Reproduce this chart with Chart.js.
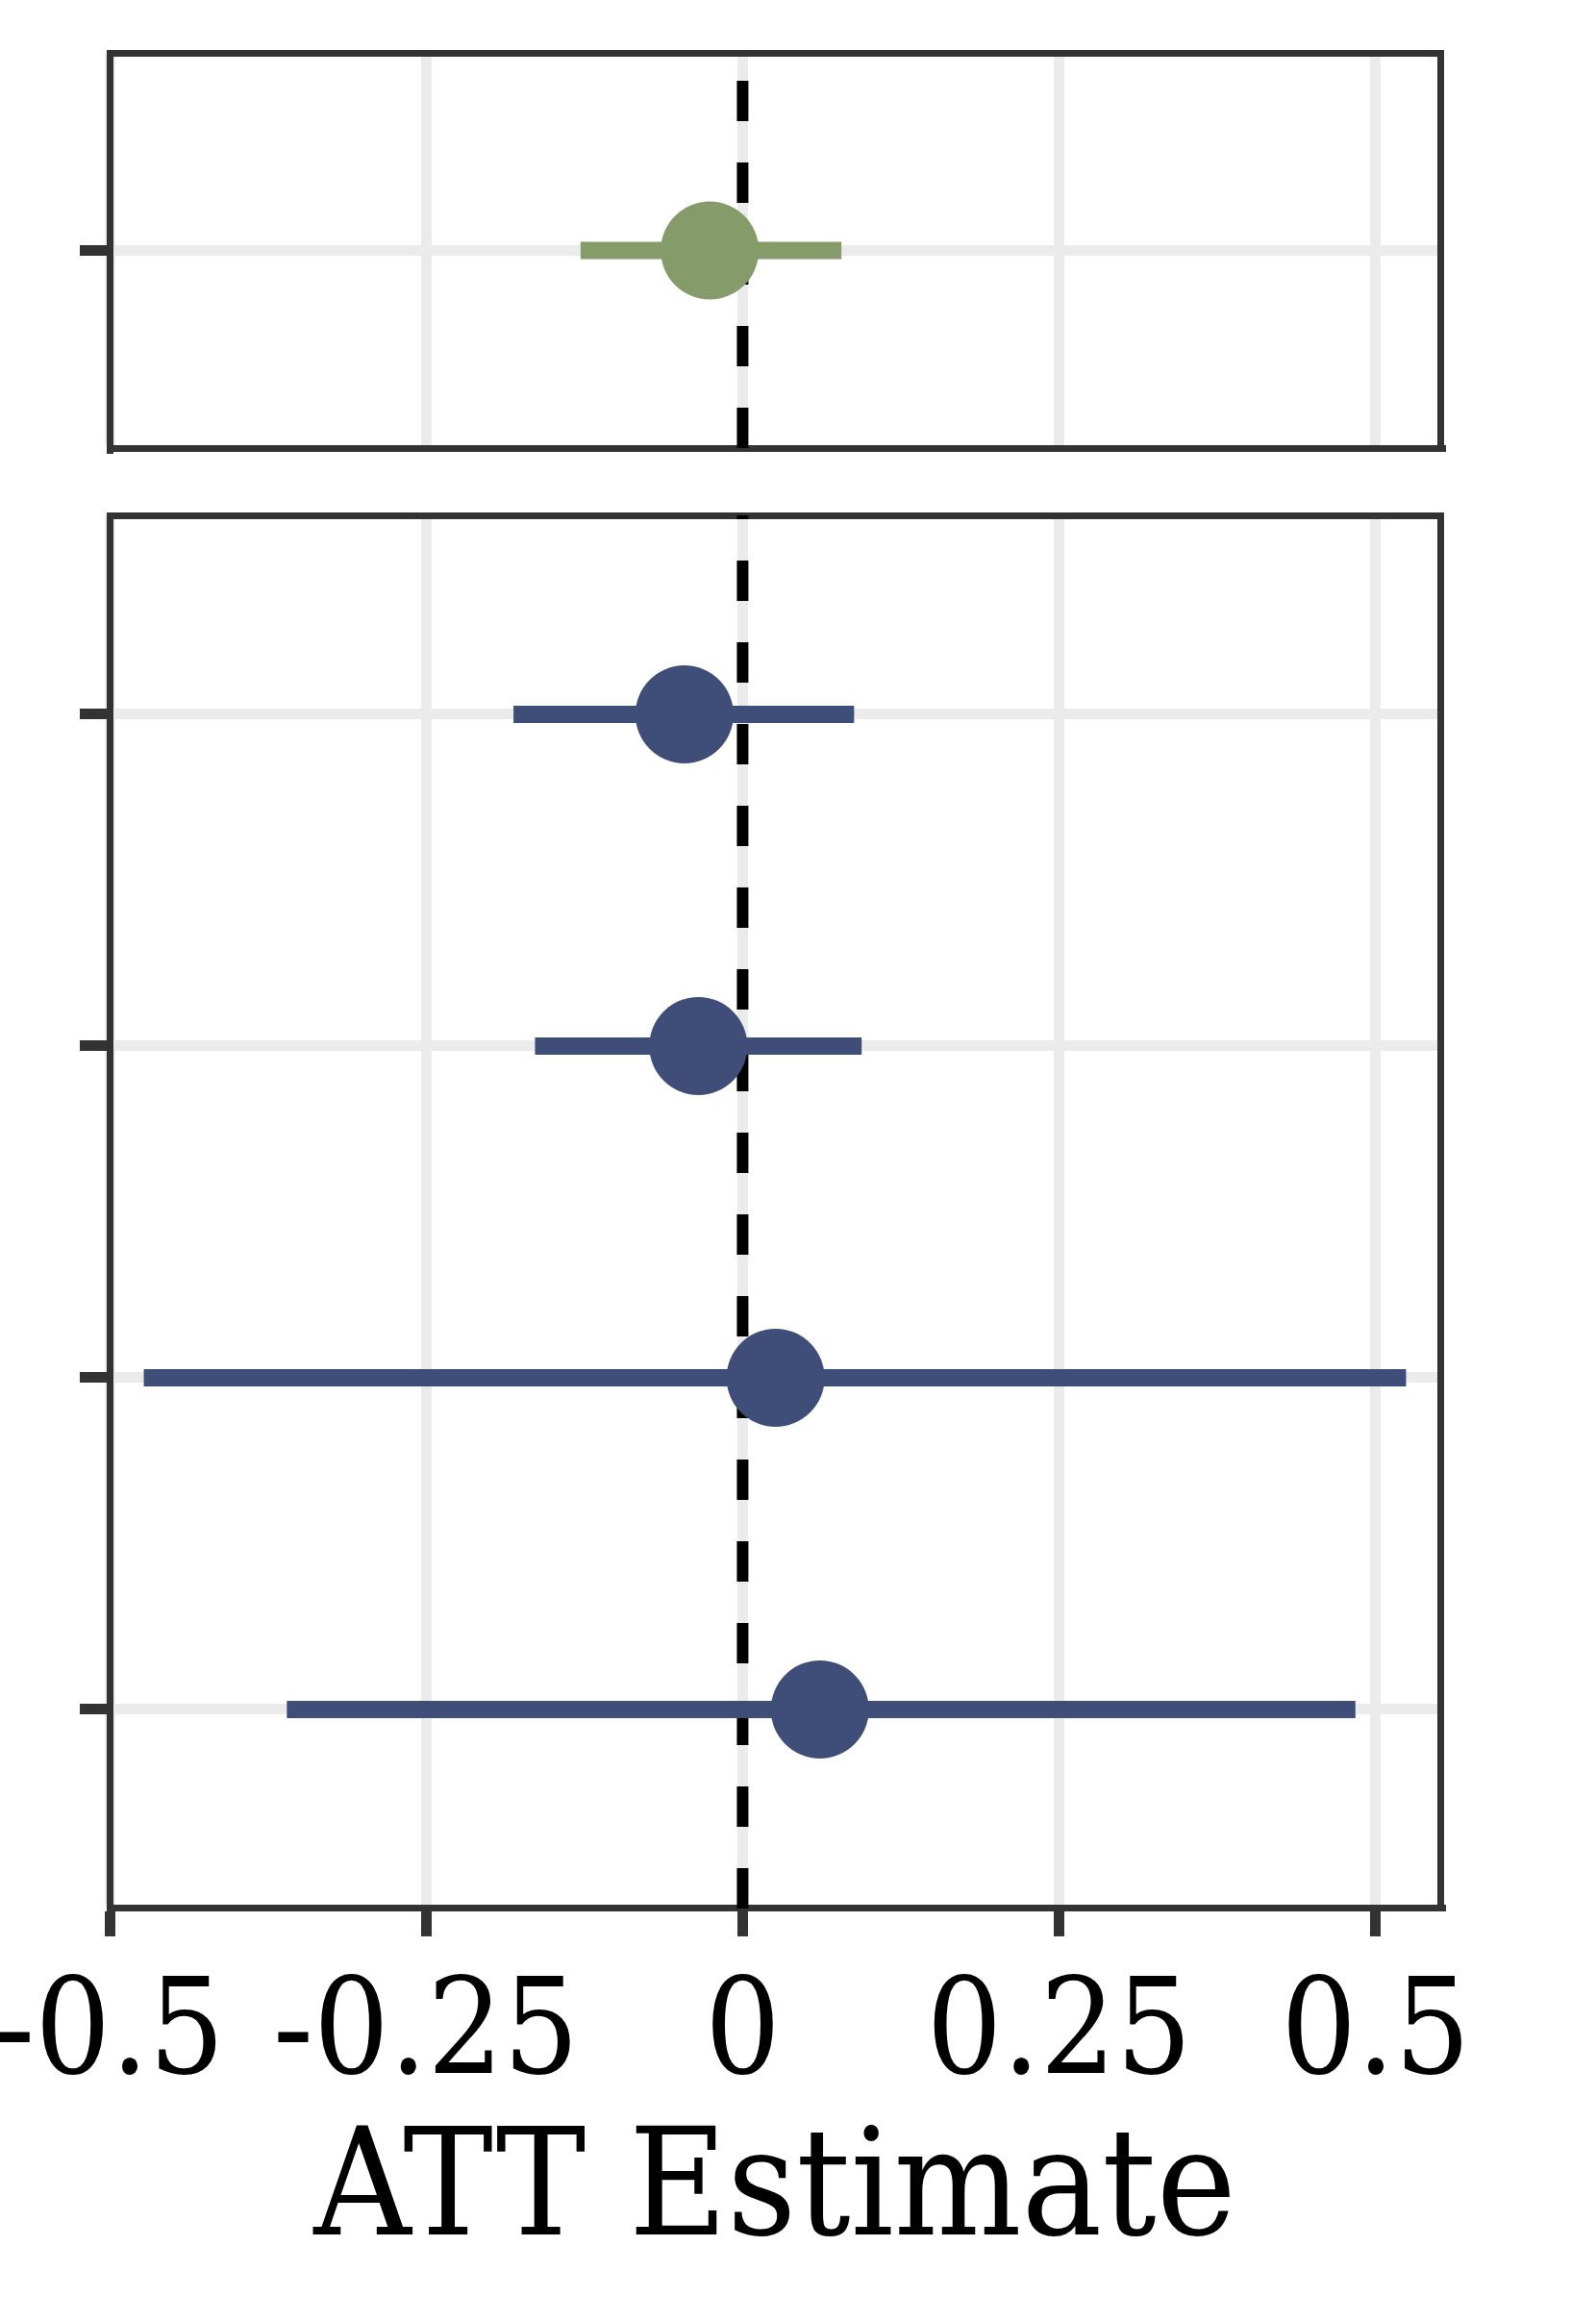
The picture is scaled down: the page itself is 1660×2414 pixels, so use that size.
<!DOCTYPE html>
<html>
<head>
<meta charset="utf-8">
<script src="https://cdn.jsdelivr.net/npm/chart.js@4.4.1/dist/chart.umd.min.js"></script>
<style>
    html, body { margin: 0; padding: 0; background: #fff; }
    body { width: 1660px; height: 2414px; position: relative; overflow: hidden; }
    canvas { position: absolute; left: 0; }
    #top-canvas { top: 0; }
    #bottom-canvas { top: 480px; }
</style>
</head>
<body>
<canvas id="top-canvas" width="1660" height="520"></canvas>
<canvas id="bottom-canvas" width="1660" height="1934"></canvas>
<script>
// --- values ---
const topRows = [1];
const topEstimate = [-0.026];
const topLower = [-0.128];
const topUpper = [0.078];

const bottomRows = [1, 2, 3, 4];
const bottomEstimate = [-0.046, -0.035, 0.026, 0.061];
const bottomLower = [-0.181, -0.164, -0.473, -0.360];
const bottomUpper = [0.088, 0.094, 0.524, 0.484];

const xTicks = [-0.5, -0.25, 0, 0.25, 0.5];
const xTickLabels = ['-0.5', '-0.25', '0', '0.25', '0.5'];
const xMin = -0.5;
const xMax = 0.551;
const refLine = 0;          // dashed zero line

// --- styling ---
const GREEN = '#869b6a';
const NAVY = '#3f4e78';
const FRAME = '#333333';
const GRID = '#ebebeb';
const FONT = "'DejaVu Serif Condensed', 'DejaVu Serif', serif";

function buildPanel(canvasId, rows, est, lo, hi, color, showXAxis, padding) {
    const ctx = document.getElementById(canvasId).getContext('2d');
    const yMin = rows[0] - 0.6;                     // ggplot style discrete expansion
    const yMax = rows[rows.length - 1] + 0.6;

    const datasets = [];

    // estimates (drawn on top)
    datasets.push({
        data: rows.map((r, i) => ({ x: est[i], y: r })),
        pointRadius: 51,
        pointHoverRadius: 51,
        backgroundColor: color,
        borderWidth: 0,
        order: 0
    });

    // confidence intervals, one segment per row
    rows.forEach((r, i) => {
        datasets.push({
            data: [{ x: lo[i], y: r }, { x: hi[i], y: r }],
            showLine: true,
            borderColor: color,
            borderWidth: 18,
            borderCapStyle: 'butt',
            pointRadius: 0,
            order: 1
        });
    });

    // vertical reference line, starting from the bottom so the dash phase matches
    datasets.push({
        data: [{ x: refLine, y: yMax }, { x: refLine, y: yMin }],
        showLine: true,
        borderColor: '#000000',
        borderWidth: 12,
        borderDash: [42, 43],
        borderCapStyle: 'butt',
        pointRadius: 0,
        order: 2
    });

    const frameOnly = (pos) => ({
        type: 'linear',
        position: pos,
        display: true,
        grid: { drawOnChartArea: false, drawTicks: false },
        ticks: { display: false },
        border: { color: FRAME, width: 7 }
    });

    return new Chart(ctx, {
        type: 'scatter',
        data: { datasets: datasets },
        options: {
            responsive: false,
            animation: false,
            events: [],
            layout: { padding: padding, autoPadding: false },
            plugins: { legend: { display: false }, tooltip: { enabled: false } },
            scales: {
                x: {
                    type: 'linear',
                    position: 'bottom',
                    min: xMin,
                    max: xMax,
                    afterBuildTicks: (s) => { s.ticks = xTicks.map(v => ({ value: v })); },
                    // let the outer labels hang over the edge instead of shrinking the panel
                    afterFit: (s) => { s.paddingLeft = 0; s.paddingRight = 0; },
                    grid: {
                        color: GRID, lineWidth: 11,
                        drawTicks: showXAxis, tickLength: 29, tickWidth: 11, tickColor: FRAME
                    },
                    border: { color: FRAME, width: 7 },
                    ticks: {
                        display: showXAxis,
                        padding: 23,
                        color: '#000000',
                        maxRotation: 0,
                        autoSkip: false,
                        font: { family: FONT, size: 138 },
                        callback: (v) => xTickLabels[xTicks.indexOf(v)]
                    },
                    title: {
                        display: showXAxis,
                        text: 'ATT Estimate',
                        color: '#000000',
                        padding: 0,
                        font: { family: FONT, size: 156, lineHeight: 0.74 }
                    }
                },
                y: {
                    type: 'linear',
                    position: 'left',
                    reverse: true,
                    min: yMin,
                    max: yMax,
                    afterBuildTicks: (s) => { s.ticks = rows.map(v => ({ value: v })); },
                    grid: {
                        color: GRID, lineWidth: 11,
                        drawTicks: true, tickLength: 31, tickWidth: 11, tickColor: FRAME
                    },
                    border: { color: FRAME, width: 7 },
                    ticks: { display: false }
                },
                x2: frameOnly('top'),
                y2: frameOnly('right')
            }
        }
    });
}

buildPanel('top-canvas', topRows, topEstimate, topLower, topUpper, GREEN, false,
    { left: 83, right: 162, top: 55, bottom: 54 });
buildPanel('bottom-canvas', bottomRows, bottomEstimate, bottomLower, bottomUpper, NAVY, true,
    { left: 83, right: 162, top: 56, bottom: 73 });
</script>
</body>
</html>
